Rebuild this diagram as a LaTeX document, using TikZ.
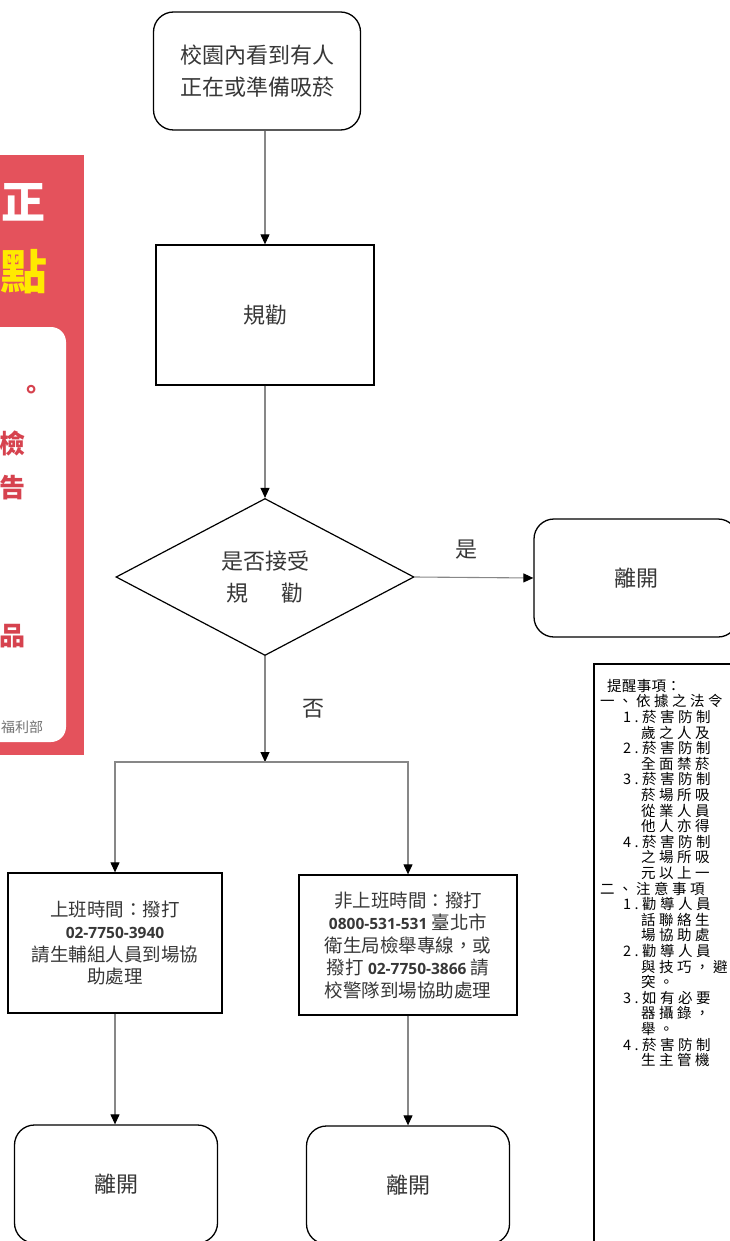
\documentclass[tikz,border=0pt]{standalone}
\usepackage{fontspec}
\setmainfont{Noto Sans CJK TC}
\newfontfamily\numfont{Open Sans}
\newfontfamily\notefont[LetterSpace=24]{Noto Sans CJK TC}
\newfontfamily\noteheadfont[LetterSpace=2]{Noto Sans CJK TC}
\usetikzlibrary{shapes.geometric,arrows.meta,positioning}
\definecolor{posterred}{RGB}{228,82,92}
\definecolor{postertext}{RGB}{214,66,78}
\definecolor{posteryellow}{RGB}{255,234,0}
\definecolor{linegray}{RGB}{135,135,135}
\definecolor{textgray}{RGB}{55,55,55}
\newcommand{\phonenum}[1]{{\numfont\bfseries\fontsize{15.5}{22.5}\selectfont #1}}

\begin{document}
\begin{tikzpicture}[x=1pt, y=-1pt,
    endbox/.style={draw, line width=1.3pt, rounded corners=20pt, align=center, text=textgray},
    procbox/.style={draw, line width=1.3pt, align=center, text=textgray},
    decision/.style={draw, diamond, line width=1.2pt, inner sep=0pt, align=center, text=textgray,
        minimum width=298pt, minimum height=157pt},
    bigtext/.style={font=\fontsize{22}{31.5}\selectfont},
    smalltext/.style={font=\fontsize{18.5}{22.5}\selectfont},
    flow/.style={draw=linegray, line width=1.1pt, -{Triangle[length=10pt,width=9pt,color=black]}},
    answer/.style={inner sep=0pt, text=textgray, font=\fontsize{22}{26}\selectfont}]
    \useasboundingbox (0,0) rectangle (730,1241);
    \clip (0,0) rectangle (730,1241);

    % poster at the left edge
    \fill[posterred] (0,155) rectangle (84,755);
    \fill[white, rounded corners=15pt] (-30,327) rectangle (66,742);
    \node[anchor=east, inner sep=0pt, text=white, font=\fontsize{44}{44}\selectfont\bfseries] (postA) at (46,202) {正};
    \node[anchor=east, inner sep=0pt, text=posteryellow, font=\fontsize{47}{47}\selectfont\bfseries] (postB) at (48,272) {點};
    \node[inner sep=0pt, text=postertext, font=\fontsize{26}{26}\selectfont\bfseries] (postC) at (31,392) {。};
    \node[anchor=east, inner sep=0pt, text=postertext, font=\fontsize{26}{26}\selectfont\bfseries] (postD) at (26,443) {檢};
    \node[anchor=east, inner sep=0pt, text=postertext, font=\fontsize{26}{26}\selectfont\bfseries] (postE) at (26,488) {告};
    \node[anchor=east, inner sep=0pt, text=postertext, font=\fontsize{26}{26}\selectfont\bfseries] (postF) at (26,636) {品};
    \node[anchor=west, inner sep=0pt, text=black!55, font=\fontsize{14}{15}\selectfont] (postG) at (1,727) {福利部};

    % flow chart
    \node[endbox, bigtext, minimum width=207pt, minimum height=118pt] (start) at (257,71) {校園內看到有人\\正在或準備吸菸};
    \node[procbox, bigtext, minimum width=218pt, minimum height=140pt] (advise) at (265,315) {規勸};
    \node[decision, bigtext] (accept) at (265,577) {是否接受\\規\hspace{1.5em}勸};
    \node[endbox, bigtext, minimum width=204pt, minimum height=118pt] (leaveA) at (636,578) {離開};
    \coordinate (split) at (265,762);
    \node[procbox, smalltext, minimum width=214pt, minimum height=140pt] (onduty) at (115,943)
        {上班時間：撥打\\\phonenum{02-7750-3940}\\請生輔組人員到場協\\助處理};
    \node[procbox, smalltext, minimum width=218pt, minimum height=140pt] (offduty) at (408,945)
        {非上班時間：撥打\\\phonenum{0800-531-531} 臺北市\\衛生局檢舉專線，或\\撥打 \phonenum{02-7750-3866} 請\\校警隊到場協助處理};
    \node[endbox, bigtext, minimum width=203pt, minimum height=118pt] (leaveB) at (116,1184) {離開};
    \node[endbox, bigtext, minimum width=203pt, minimum height=118pt] (leaveC) at (408,1185) {離開};

    % connectors
    \draw[flow] (start.south -| advise) -- (advise.north);
    \draw[flow] (advise.south) -- (accept.north);
    \draw[flow] (accept.east) -- (leaveA.west) node[answer, pos=0.44, above=18pt] (yes) {是};
    \draw[flow] (accept.south) -- (split) node[answer, midway, right=37pt] (no) {否};
    \draw[flow] (split) -| (onduty.north);
    \draw[flow] (split) -| (offduty.north);
    \draw[flow] (onduty.south) -- (onduty.south |- leaveB.north);
    \draw[flow] (offduty.south) -- (offduty.south |- leaveC.north);

    % reminder box at the right edge
    \draw[line width=1.2pt] (594,664) rectangle (770,1270);
    \node[anchor=north west, align=left, inner sep=0pt, font=\notefont\fontsize{14.5}{15.6}\selectfont] (notes) at (600,679)
        {\hspace*{7pt}{\noteheadfont 提醒事項：}\\
         一、依據之法令\\
         \hspace*{23pt}1.菸害防制\\
         \hspace*{41pt}歲之人及\\
         \hspace*{23pt}2.菸害防制\\
         \hspace*{41pt}全面禁菸\\
         \hspace*{23pt}3.菸害防制\\
         \hspace*{41pt}菸場所吸\\
         \hspace*{41pt}從業人員\\
         \hspace*{41pt}他人亦得\\
         \hspace*{23pt}4.菸害防制\\
         \hspace*{41pt}之場所吸\\
         \hspace*{41pt}元以上一\\
         二、注意事項\\
         \hspace*{23pt}1.勸導人員\\
         \hspace*{41pt}話聯絡生\\
         \hspace*{41pt}場協助處\\
         \hspace*{23pt}2.勸導人員\\
         \hspace*{41pt}與技巧，避\\
         \hspace*{41pt}突。\\
         \hspace*{23pt}3.如有必要\\
         \hspace*{41pt}器攝錄，\\
         \hspace*{41pt}舉。\\
         \hspace*{23pt}4.菸害防制\\
         \hspace*{41pt}生主管機};
\end{tikzpicture}
\end{document}
